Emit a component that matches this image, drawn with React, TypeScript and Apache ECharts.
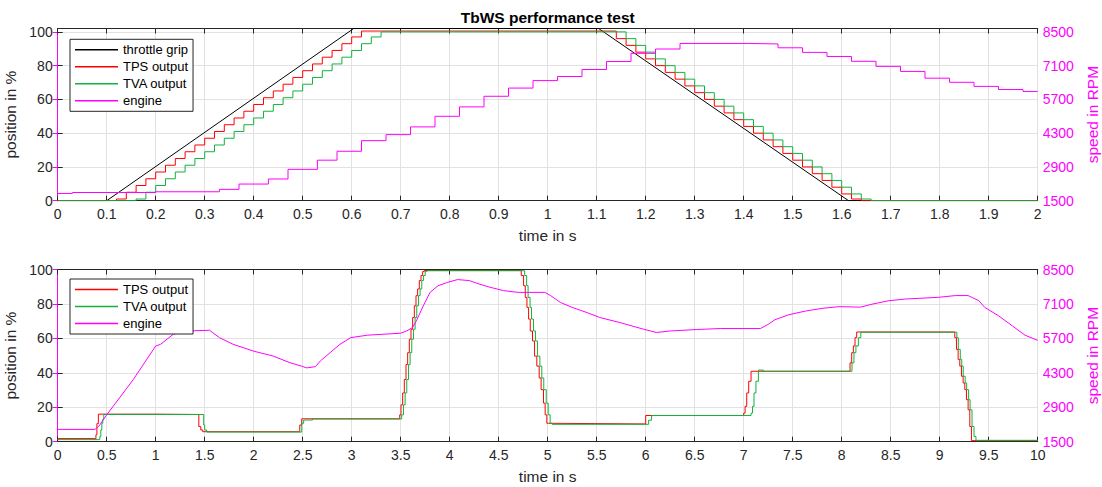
import React, { useEffect, useRef } from 'react';
import * as echarts from 'echarts';

// ---------- texts ----------
const chartTitle = 'TbWS performance test';
const xName = 'time in s';
const yLeftName = 'position in %';
const yRightName = 'speed in RPM';
const legendTop = ['throttle grip', 'TPS output', 'TVA output', 'engine'];
const legendBottom = ['TPS output', 'TVA output', 'engine'];

// ---------- top plot (0..2 s) ----------
const throttleT = [0, 0.1, 0.604, 1.104, 1.614, 2];
const throttleV = [0, 0, 102, 102, 0, 0];

const tpsTopT = [0, 0.12, 0.14, 0.16, 0.18, 0.2, 0.22, 0.24, 0.26, 0.28, 0.3, 0.32, 0.34, 0.36, 0.38, 0.4, 0.42, 0.44, 0.46, 0.48, 0.5, 0.52, 0.54, 0.56, 0.58, 0.6, 0.62, 1.14, 1.16, 1.18, 1.2, 1.22, 1.24, 1.26, 1.28, 1.3, 1.32, 1.34, 1.36, 1.38, 1.4, 1.42, 1.44, 1.46, 1.48, 1.5, 1.52, 1.54, 1.56, 1.58, 1.6, 1.62, 1.64, 2];
const tpsTopV = [0, 1, 5, 9, 13, 17, 21, 25, 29, 33, 37, 41, 45, 49, 53, 57, 61, 65, 69, 73, 77, 81, 85, 89, 93, 97, 100.5, 96, 92, 88, 84, 80, 76, 72, 68, 64, 60, 56, 52, 48, 44, 40, 36, 32, 28, 24, 20, 16, 12, 8, 4, 1, 0, 0];

const tvaTopT = [0, 0.16, 0.18, 0.2, 0.22, 0.24, 0.26, 0.28, 0.3, 0.32, 0.34, 0.36, 0.38, 0.4, 0.42, 0.44, 0.46, 0.48, 0.5, 0.52, 0.54, 0.56, 0.58, 0.6, 0.62, 0.64, 0.66, 1.16, 1.18, 1.2, 1.22, 1.24, 1.26, 1.28, 1.3, 1.32, 1.34, 1.36, 1.38, 1.4, 1.42, 1.44, 1.46, 1.48, 1.5, 1.52, 1.54, 1.56, 1.58, 1.6, 1.62, 1.64, 1.66, 2];
const tvaTopV = [0, 1, 5, 9, 13, 17, 21, 25, 29, 33, 37, 41, 45, 49, 53, 57, 61, 65, 69, 73, 77, 81, 85, 89, 93, 97, 100, 96, 92, 88, 84, 80, 76, 72, 68, 64, 60, 56, 52, 48, 44, 40, 36, 32, 28, 24, 20, 16, 12, 8, 4, 1, 0, 0];

const engTopT = [0, 0.03, 0.2, 0.33, 0.37, 0.43, 0.47, 0.53, 0.57, 0.62, 0.67, 0.72, 0.77, 0.82, 0.87, 0.92, 0.97, 1.02, 1.07, 1.12, 1.17, 1.22, 1.27, 1.41, 1.47, 1.52, 1.57, 1.62, 1.67, 1.72, 1.77, 1.82, 1.87, 1.92, 1.97, 2];
const engTopV = [1800, 1840, 1870, 1970, 2190, 2400, 2800, 3180, 3550, 3990, 4240, 4560, 5000, 5390, 5830, 6170, 6480, 6650, 6940, 7270, 7610, 7790, 8020, 8000, 7840, 7650, 7480, 7280, 7070, 6860, 6580, 6410, 6240, 6110, 6030, 6030];

// ---------- bottom plot (0..10 s) ----------
const tpsBotT = [0, 0.38, 0.39, 0.4, 0.415, 1.0, 1.44, 1.46, 1.48, 2.47, 2.49, 3.49, 3.503, 3.52, 3.537, 3.554, 3.571, 3.588, 3.605, 3.622, 3.639, 3.656, 3.673, 3.69, 3.707, 3.724, 3.741, 4.73, 4.754, 4.771, 4.788, 4.805, 4.822, 4.845, 4.866, 4.889, 4.913, 4.933, 4.957, 4.974, 4.991, 5.01, 6.0, 7.0, 7.014, 7.031, 7.051, 7.075, 8.085, 8.102, 8.119, 8.136, 8.153, 9.154, 9.171, 9.188, 9.205, 9.222, 9.239, 9.256, 9.273, 9.29, 9.307, 9.324, 10];
const tpsBotV = [1.8, 1.6, 4, 10.5, 16, 15.8, 8.8, 6.8, 5.8, 9.7, 13.3, 15.6, 21.4, 28.3, 36.1, 44.8, 51.7, 59.5, 65.3, 72.1, 78.9, 84.8, 88.7, 93.6, 96.5, 98.8, 99.4, 96.5, 90.6, 83.8, 78, 71.2, 64.3, 58.5, 49.7, 43.9, 37, 30.2, 22.4, 15.6, 10.7, 10.3, 15.2, 16.6, 20.5, 28.3, 35.1, 40.9, 45.8, 51.7, 55.6, 60.4, 63.7, 60.4, 53.6, 47.8, 43.9, 38, 34.1, 30.2, 24.4, 18.5, 8.8, 0.6, 0.6];

const tvaBotT = [0, 0.43, 0.44, 0.45, 0.46, 0.47, 1.49, 1.5, 1.52, 2.49, 2.51, 2.6, 3.51, 3.528, 3.545, 3.562, 3.58, 3.596, 3.613, 3.63, 3.647, 3.664, 3.681, 3.698, 3.715, 3.732, 3.75, 3.766, 4.765, 4.785, 4.8, 4.82, 4.835, 4.855, 4.875, 4.895, 4.92, 4.94, 4.96, 4.985, 5.005, 5.025, 5.045, 6.03, 6.06, 7.075, 7.09, 7.105, 7.125, 7.15, 7.2, 8.105, 8.125, 8.145, 8.17, 8.195, 9.175, 9.19, 9.21, 9.225, 9.24, 9.26, 9.275, 9.295, 9.31, 9.33, 9.35, 9.37, 10];
const tvaBotV = [1.2, 3, 6.8, 10.7, 13, 15.8, 9.7, 6.8, 5.6, 10.7, 12.6, 13.2, 15.6, 21.4, 28.3, 36.1, 44.8, 51.7, 59.5, 65.3, 72.1, 78.9, 84.8, 88.7, 93.6, 96.5, 98.8, 99.3, 96.5, 90.6, 83.8, 78, 71.2, 64.3, 58.5, 49.7, 43.9, 37, 30.2, 22.4, 15.6, 10.7, 10.1, 12.5, 15.2, 16.6, 20.5, 28.3, 35.1, 41.6, 40.9, 45.8, 51.7, 55.6, 60.4, 63.6, 60.4, 53.6, 47.8, 43.9, 38, 34.1, 30.2, 24.4, 18.5, 8.8, 3, 0.8, 0.8];

const engBotT = [0, 0.38, 0.42, 0.5, 0.77, 1.0, 1.05, 1.18, 1.31, 1.55, 1.65, 1.79, 2.0, 2.2, 2.37, 2.49, 2.54, 2.63, 2.68, 2.78, 2.88, 2.99, 3.16, 3.5, 3.56, 3.62, 3.66, 3.73, 3.8, 3.88, 3.98, 4.08, 4.2, 4.3, 4.41, 4.55, 4.7, 4.97, 5.03, 5.13, 5.25, 5.4, 5.53, 5.74, 5.98, 6.11, 6.25, 6.52, 6.76, 7.17, 7.25, 7.32, 7.46, 7.63, 7.8, 7.97, 8.19, 8.31, 8.48, 8.65, 8.99, 9.16, 9.29, 9.4, 9.46, 9.6, 9.74, 9.87, 10];
const engBotV = [2000, 2000, 2130, 2590, 4020, 5390, 5460, 5870, 6000, 6030, 5730, 5460, 5180, 4980, 4710, 4570, 4500, 4550, 4780, 5120, 5460, 5730, 5830, 5910, 6000, 6140, 6410, 7020, 7570, 7840, 7980, 8090, 8050, 7910, 7780, 7640, 7570, 7570, 7440, 7160, 6960, 6750, 6550, 6340, 6070, 5940, 6000, 6060, 6100, 6100, 6270, 6460, 6660, 6810, 6920, 6990, 6970, 7090, 7230, 7300, 7370, 7440, 7440, 7230, 6960, 6620, 6210, 5830, 5620];

// ---------- styling ----------
const FONT = '"Liberation Sans", Arial, Helvetica, sans-serif';
const TXT = '#262626';
const GRIDC = '#e2e2e2';
const MAG = '#ff00ff';
const RED = '#ff0000';
const GREEN = '#12b23e';
const BLACK = '#000000';

const pair = (t: number[], v: number[]) => t.map((x, i) => [x, v[i]]);
const plain = (v: number) => String(v);

function makeXAxes(gridIndex: number, max: number, interval: number) {
  const common: any = {
    type: 'value',
    gridIndex,
    min: 0,
    max,
    interval,
    axisLine: { show: true, onZero: false, lineStyle: { color: TXT, width: 1 } },
    axisTick: { show: true, inside: true, length: 5, lineStyle: { color: TXT, width: 1 } },
  };
  return [
    {
      ...common,
      position: 'bottom',
      axisLabel: { fontSize: 14, color: TXT, margin: 6, fontFamily: FONT, formatter: plain },
      splitLine: { show: true, lineStyle: { color: GRIDC, width: 1 } },
      name: xName,
      nameLocation: 'middle',
      nameGap: 27,
      nameTextStyle: { fontSize: 15.5, color: TXT, fontFamily: FONT },
    },
    {
      ...common,
      position: 'top',
      axisLabel: { show: false },
      splitLine: { show: false },
    },
  ];
}

function makeYAxes(gridIndex: number, leftMax: number, rightMax: number, hideMax: boolean) {
  return [
    {
      type: 'value',
      gridIndex,
      position: 'left',
      min: 0,
      max: leftMax,
      interval: 20,
      axisLine: { show: true, lineStyle: { color: TXT, width: 1 } },
      axisTick: { show: true, inside: true, length: 5, lineStyle: { color: TXT } },
      axisLabel: { fontSize: 14, color: TXT, margin: 5, fontFamily: FONT, showMaxLabel: !hideMax, formatter: plain },
      splitLine: { show: true, lineStyle: { color: GRIDC, width: 1 } },
      name: yLeftName,
      nameLocation: 'middle',
      nameRotate: 90,
      nameGap: 27,
      nameTextStyle: { fontSize: 15.5, color: TXT, fontFamily: FONT },
    },
    {
      type: 'value',
      gridIndex,
      position: 'right',
      min: 1500,
      max: rightMax,
      interval: 1400,
      axisLine: { show: true, lineStyle: { color: MAG, width: 1 } },
      axisTick: { show: true, inside: true, length: 5, lineStyle: { color: MAG } },
      axisLabel: { fontSize: 14, color: MAG, margin: 5, fontFamily: FONT, showMaxLabel: !hideMax, formatter: plain },
      splitLine: { show: false },
      name: yRightName,
      nameLocation: 'middle',
      nameRotate: 90,
      nameGap: 42,
      nameTextStyle: { fontSize: 15.5, color: MAG, fontFamily: FONT },
    },
  ];
}

function makeLegend(data: string[], top: number) {
  return {
    data,
    orient: 'vertical',
    left: 70,
    top,
    selectedMode: false,
    icon: 'rect',
    backgroundColor: '#ffffff',
    borderColor: TXT,
    borderWidth: 1,
    borderRadius: 0,
    padding: [4, 5, 4, 5],
    itemWidth: 43,
    itemHeight: 1.5,
    itemGap: 4,
    itemTextGap: 5,
    textStyle: { fontSize: 13, color: '#000', fontFamily: FONT },
    z: 10,
  };
}

function line(name: string, data: number[][], color: string, xi: number, yi: number, step: any) {
  return {
    name,
    type: 'line',
    xAxisIndex: xi,
    yAxisIndex: yi,
    data,
    step,
    color,
    symbol: 'none',
    showSymbol: false,
    lineStyle: { color, width: 1 },
    emphasis: { disabled: true },
  };
}

export default function App() {
  const ref = useRef<HTMLDivElement>(null);

  useEffect(() => {
    if (!ref.current) return;
    const chart = echarts.init(ref.current, undefined, { renderer: 'svg' });
    const option: any = {
      animation: false,
      backgroundColor: '#ffffff',
      textStyle: { fontFamily: FONT },
      title: {
        text: chartTitle,
        left: 460.7,
        top: 9,
        padding: 0,
        textStyle: { fontSize: 15.5, fontWeight: 'bold', color: '#000', fontFamily: FONT },
      },
      grid: [
        { left: 57.7, right: 64.3, top: 28.5, height: 172.2, containLabel: false, outerBoundsMode: 'none' },
        { left: 57.7, right: 64.3, top: 269.5, height: 172.2, containLabel: false, outerBoundsMode: 'none' },
      ],
      xAxis: [...makeXAxes(0, 2, 0.1), ...makeXAxes(1, 10, 0.5)],
      yAxis: [...makeYAxes(0, 102, 8640, true), ...makeYAxes(1, 100, 8500, false)],
      legend: [makeLegend(legendTop, 39.3), makeLegend(legendBottom, 279)],
      series: [
        line('throttle grip', pair(throttleT, throttleV), BLACK, 0, 0, false),
        line('TPS output', pair(tpsTopT, tpsTopV), RED, 0, 0, 'end'),
        line('TVA output', pair(tvaTopT, tvaTopV), GREEN, 0, 0, 'end'),
        line('engine', pair(engTopT, engTopV), MAG, 0, 1, 'end'),
        line('TPS output', pair(tpsBotT, tpsBotV), RED, 2, 2, 'end'),
        line('TVA output', pair(tvaBotT, tvaBotV), GREEN, 2, 2, 'end'),
        line('engine', pair(engBotT, engBotV), MAG, 2, 3, false),
      ],
    };
    chart.setOption(option);
    return () => chart.dispose();
  }, []);

  return (
    <div
      ref={ref}
      style={{ position: 'absolute', left: 0, top: 0, width: 1102, height: 487, background: '#fff' }}
    />
  );
}
